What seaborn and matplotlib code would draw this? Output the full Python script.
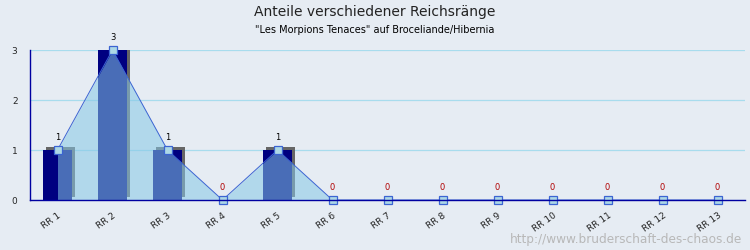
import numpy as np
import pandas as pd
import matplotlib
matplotlib.use("Agg")
import matplotlib.pyplot as plt
import matplotlib.transforms as mtransforms
import seaborn as sns

categories = ["RR 1", "RR 2", "RR 3", "RR 4", "RR 5", "RR 6", "RR 7",
              "RR 8", "RR 9", "RR 10", "RR 11", "RR 12", "RR 13"]
values = [1, 3, 1, 0, 1, 0, 0, 0, 0, 0, 0, 0, 0]
y_ticks = [0, 1, 2, 3]
title = "Anteile verschiedener Reichsränge"
subtitle = '"Les Morpions Tenaces" auf Broceliande/Hibernia'
watermark = "http://www.bruderschaft-des-chaos.de"

sns.set_theme(style="white")
plt.rcParams['font.family'] = ['DejaVu Sans']

bg = "#e6ecf3"
navy = "#000080"
axis_col = "#0000a0"

df = pd.DataFrame({"cat": categories, "val": values})
pos = np.arange(len(categories))

fig = plt.figure(figsize=(7.5, 2.5), dpi=100, facecolor=bg)
ax = fig.add_axes([30 / 750, 50 / 250, 715 / 750, 150 / 250])
ax.set_facecolor(bg)

# shadow bars (offset up-right)
shadow_tr = ax.transData + mtransforms.ScaledTranslation(3 / 100, 3 / 100, fig.dpi_scale_trans)
ax.bar(pos, values, width=0.53, color="#666666", transform=shadow_tr, zorder=1, linewidth=0)

sns.barplot(data=df, x="cat", y="val", color=navy, saturation=1, width=0.53,
            ax=ax, zorder=2, linewidth=0)

# area + line
ax.fill_between(pos, values, 0, color="#87c8e6", alpha=0.55, zorder=3, linewidth=0)
sns.lineplot(x=pos, y=values, ax=ax, color="#3c64d2", linewidth=0.7, zorder=4,
             marker="s", markersize=6, markerfacecolor="#add8e6",
             markeredgecolor="#3c64d2", markeredgewidth=0.9)
for line in ax.lines:
    line.set_clip_on(False)

# value labels
for p, v in zip(pos, values):
    ax.annotate(str(v), (p, v), xytext=(0, 5.5), textcoords="offset points",
                ha="center", va="bottom", fontsize=6,
                color="#000000" if v > 0 else "#b00000", annotation_clip=False)

ax.set_xlim(-0.5, len(categories) - 0.5)
ax.set_ylim(0, 3)
ax.set_yticks(y_ticks)
ax.set_yticklabels([str(t) for t in y_ticks], fontsize=6.5)
ax.yaxis.grid(True, color="#a8dced", linewidth=0.9, zorder=0)
ax.set_axisbelow(True)

ax.set_xticks(pos)
ax.set_xticklabels(categories, rotation=35, ha="right", rotation_mode="anchor", fontsize=6.5)
ax.set_xticks(np.arange(len(categories) + 1) - 0.5, minor=True)
ax.tick_params(axis="x", which="major", length=0, pad=8)
ax.tick_params(axis="x", which="minor", direction="in", length=4, color=axis_col, width=1)
ax.tick_params(axis="y", which="major", direction="out", length=4, color=axis_col, width=1, pad=5)
ax.set_xlabel("")
ax.set_ylabel("")

for s in ["top", "right"]:
    ax.spines[s].set_visible(False)
for s in ["left", "bottom"]:
    ax.spines[s].set_color(axis_col)
    ax.spines[s].set_linewidth(1)
    ax.spines[s].set_zorder(5)

fig.text(0.5, 1 - 12 / 250, title, ha="center", va="center", fontsize=10, color="#222222")
fig.text(0.5, 1 - 30 / 250, subtitle, ha="center", va="center", fontsize=7,
         family=["Liberation Sans Narrow", "DejaVu Sans"], color="#000000")
fig.text(742 / 750, 1 - 240 / 250, watermark, ha="right", va="center", fontsize=8.7,
         color="#b8b8b8")

fig.savefig("out.png", dpi=100, facecolor=bg)
